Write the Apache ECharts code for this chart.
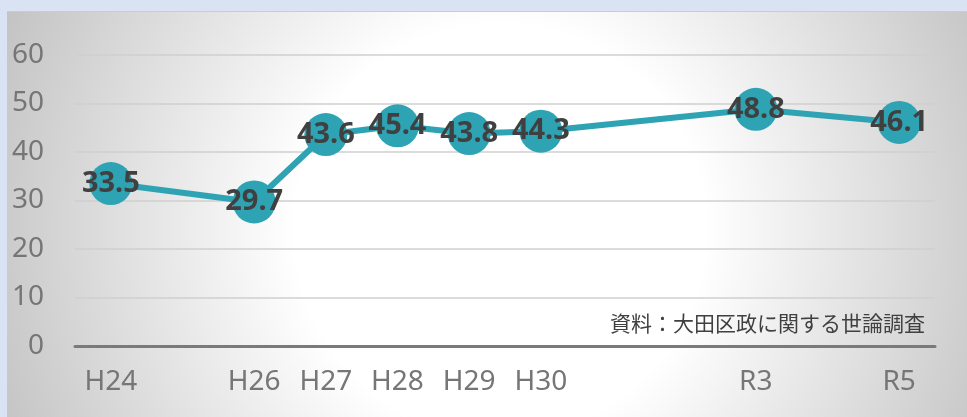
<!DOCTYPE html>
<html>
<head>
<meta charset="utf-8">
<style>
html,body{margin:0;padding:0;background:#dae3f3;}
#chart{width:967px;height:417px;}
</style>
<script src="https://cdn.jsdelivr.net/npm/echarts@6/dist/echarts.min.js"></script>
</head>
<body>
<div id="chart"></div>
<script>
// Fiscal years (category slots, evenly spaced per year)
const years = ['H24','H25','H26','H27','H28','H29','H30','R1','R2','R3','R4','R5'];
// Survey values (null = no survey that year)
const values = [33.5, null, 29.7, 43.6, 45.4, 43.8, 44.3, null, null, 48.8, null, 46.1];
const yTicks = [0, 10, 20, 30, 40, 50, 60];
const sourceText = '資料：大田区政に関する世論調査';

const chart = echarts.init(document.getElementById('chart'), null, {renderer: 'canvas'});
const font = '"Noto Sans", "Open Sans", sans-serif';
chart.setOption({
  backgroundColor: '#dae3f3',
  animation: false,
  graphic: [
    {
      type: 'rect', z: -10, silent: true,
      shape: {x: 7, y: 12, width: 960, height: 405},
      style: {
        fill: new echarts.graphic.RadialGradient(500, 230, 540, [
          {offset: 0, color: '#ffffff'},
          {offset: 0.38, color: '#ffffff'},
          {offset: 1, color: '#c3c3c3'}
        ], true)
      }
    },
    {
      type: 'line', z: -9, silent: true,
      shape: {x1: 7, y1: 11.5, x2: 967, y2: 11.5},
      style: {stroke: '#c8ccd4', lineWidth: 1}
    },
    {
      type: 'text', z: 10,
      style: {
        x: 925, y: 323, text: sourceText,
        align: 'right', verticalAlign: 'middle',
        font: '21px "Noto Sans CJK JP", sans-serif',
        fill: '#404040'
      }
    }
  ],
  grid: {left: 75, right: 32, top: 55, bottom: 71, containLabel: false},
  xAxis: {
    type: 'category',
    data: years,
    boundaryGap: true,
    axisLine: {show: true, lineStyle: {color: '#7a7a7a', width: 3}},
    axisTick: {show: false},
    axisLabel: {
      interval: 0,
      margin: 22,
      fontSize: 28,
      fontFamily: font,
      color: '#767676',
      formatter: function (v, i) { return values[i] === null ? '' : v; }
    },
    splitLine: {show: false}
  },
  yAxis: {
    type: 'value',
    min: yTicks[0],
    max: yTicks[yTicks.length - 1],
    interval: 10,
    axisLine: {show: false},
    axisTick: {show: false},
    axisLabel: {margin: 31, fontSize: 28, fontFamily: font, color: '#767676'},
    splitLine: {show: true, lineStyle: {color: '#cfcfcf', width: 1.5}}
  },
  series: [{
    type: 'line',
    data: values,
    connectNulls: true,
    symbol: 'circle',
    symbolSize: 43,
    lineStyle: {color: '#2ea3b4', width: 6},
    itemStyle: {color: '#2ea3b4'},
    label: {
      show: true,
      position: 'inside',
      fontSize: 29,
      fontWeight: 'bold',
      fontFamily: font,
      color: '#404040'
    }
  }]
});
</script>
</body>
</html>
